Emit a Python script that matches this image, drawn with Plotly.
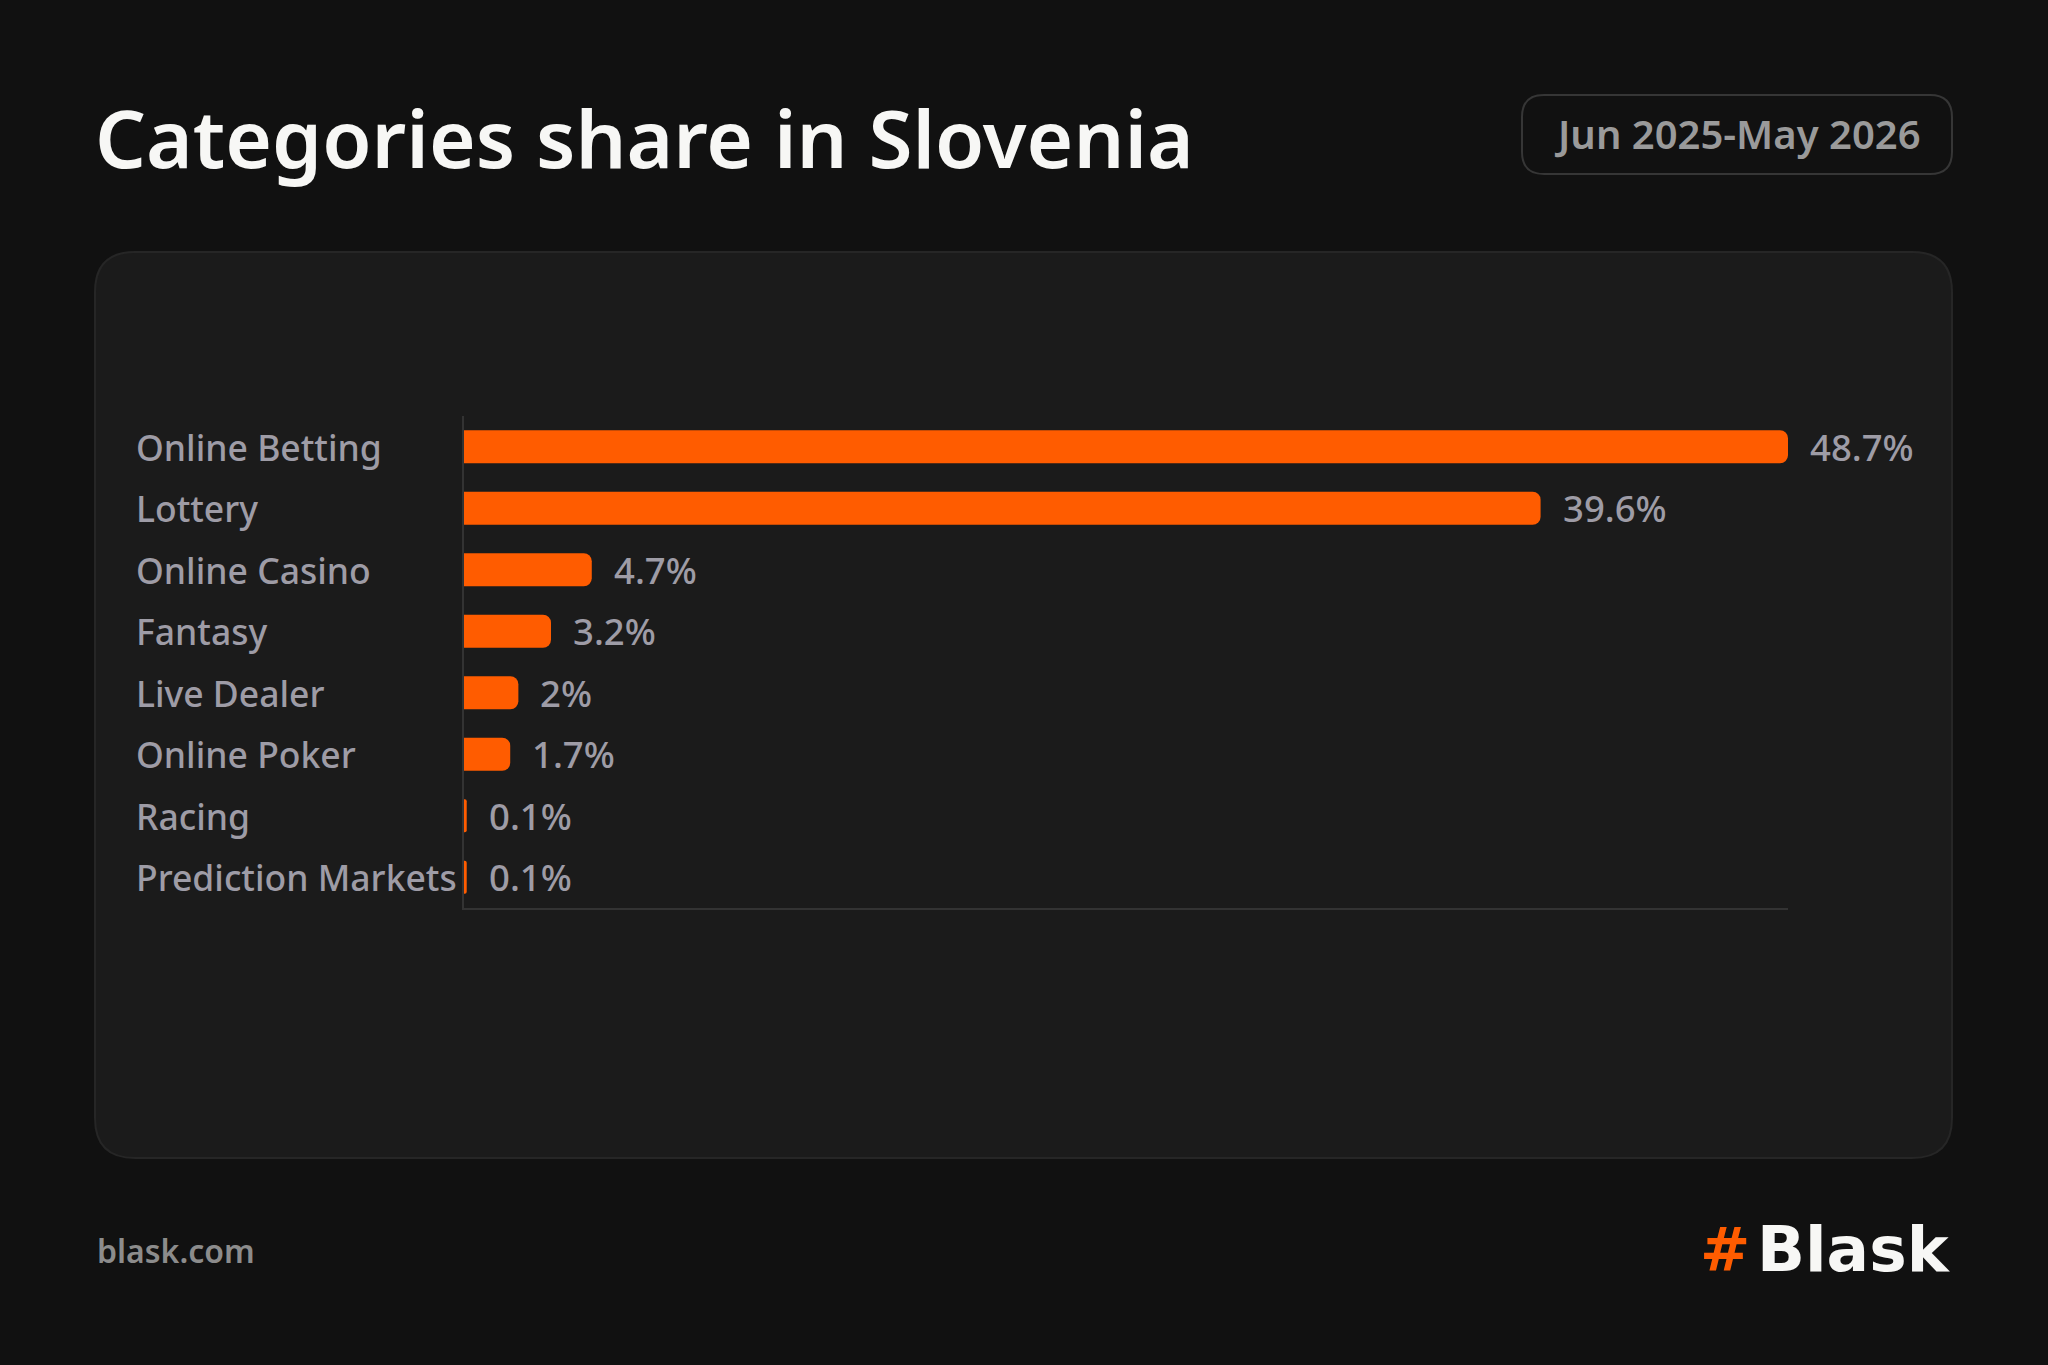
#!/usr/bin/env python3

import plotly.graph_objects as go

W, H = 2048, 1365

categories = ["Online Betting", "Lottery", "Online Casino", "Fantasy",
              "Live Dealer", "Online Poker", "Racing", "Prediction Markets"]
shares = [48.7, 39.6, 4.7, 3.2, 2.0, 1.7, 0.1, 0.1]

title_text = "Categories share in Slovenia"
period_text = "Jun 2025-May 2026"
footer_text = "blask.com"
brand_text = "Blask"

BG = "#111111"
CARD = "#1b1b1b"
ORANGE = "#ff5c00"
GREY = "#9e9ca6"
FONT = "Noto Sans"


def px(x):
    return x / W


def py(y):
    return 1 - y / H


def rounded_rect(x0, y0, x1, y1, r):
    # rounded rectangle in pixel space, converted to paper fractions
    pts = [
        ("M", x0 + r, y0), ("L", x1 - r, y0), ("Q", x1, y0, x1, y0 + r),
        ("L", x1, y1 - r), ("Q", x1, y1, x1 - r, y1), ("L", x0 + r, y1),
        ("Q", x0, y1, x0, y1 - r), ("L", x0, y0 + r), ("Q", x0, y0, x0 + r, y0),
    ]
    out = []
    for p in pts:
        if p[0] == "Q":
            out.append(f"Q{px(p[1])},{py(p[2])} {px(p[3])},{py(p[4])}")
        else:
            out.append(f"{p[0]}{px(p[1])},{py(p[2])}")
    return " ".join(out) + " Z"


fig = go.Figure()

fig.add_trace(go.Bar(
    x=shares, y=categories, orientation="h",
    marker=dict(color=ORANGE, line=dict(width=0), cornerradius=8),
    hoverinfo="skip",
))

# category names, left aligned inside the card
for c in categories:
    fig.add_annotation(x=px(134), xref="paper", y=c, yref="y", text=c,
                       showarrow=False, xanchor="left", yanchor="middle",
                       font=dict(family=FONT, size=35.5, color=GREY, weight=500))

# value labels after each bar
for c, v in zip(categories, shares):
    fig.add_annotation(x=v, xref="x", y=c, yref="y", text=f"{v:g}%",
                       showarrow=False, xanchor="left", yanchor="middle", xshift=20,
                       font=dict(family=FONT, size=36.5, color=GREY, weight=500))

fig.add_annotation(x=px(93), y=py(137), xref="paper", yref="paper", text=title_text,
                   showarrow=False, xanchor="left", yanchor="middle",
                   font=dict(family=FONT, size=80, color="#f7f7f5", weight=600))

fig.add_annotation(x=px(1737), y=py(134), xref="paper", yref="paper", text=period_text,
                   showarrow=False, xanchor="center", yanchor="middle",
                   font=dict(family=FONT, size=40, color="#9a9a9a", weight=600))

fig.add_annotation(x=px(95), y=py(1250), xref="paper", yref="paper", text=footer_text,
                   showarrow=False, xanchor="left", yanchor="middle",
                   font=dict(family=FONT, size=32, color="#8c8c8c", weight=600))

# logo: orange hash + wordmark
fig.add_annotation(x=px(1752), y=py(1249), xref="paper", yref="paper", text="#",
                   showarrow=False, xanchor="right", yanchor="middle",
                   font=dict(family="DejaVu Sans", size=60, color=ORANGE, weight="bold"))
fig.add_annotation(x=px(1953), y=py(1249), xref="paper", yref="paper", text=brand_text,
                   showarrow=False, xanchor="right", yanchor="middle",
                   font=dict(family="DejaVu Sans", size=63, color="#f7f7f5", weight="bold"))

fig.update_layout(
    width=W, height=H,
    paper_bgcolor=BG, plot_bgcolor="rgba(0,0,0,0)",
    margin=dict(l=0, r=0, t=0, b=0),
    showlegend=False,
    bargap=0.46,
    shapes=[
        dict(type="path", xref="paper", yref="paper", layer="below",
             path=rounded_rect(95, 252, 1952, 1158, 40),
             fillcolor=CARD, line=dict(color="#262626", width=2)),
        dict(type="path", xref="paper", yref="paper", layer="below",
             path=rounded_rect(1522, 95, 1952, 174, 22),
             fillcolor=BG, line=dict(color="#363636", width=2)),
    ],
)

fig.update_xaxes(domain=[px(464), px(1788)], range=[0, 48.7],
                 showgrid=False, zeroline=False, showticklabels=False,
                 showline=True, linecolor="#333333", linewidth=2, ticks="")
fig.update_yaxes(domain=[py(908), py(416)], autorange="reversed",
                 showgrid=False, zeroline=False, showticklabels=False,
                 showline=True, linecolor="#333333", linewidth=2, ticks="")

fig.write_html("out.html", config={"displayModeBar": False},
               post_script="document.body.style.margin='0';"
                           "document.body.style.background='#111111';")
